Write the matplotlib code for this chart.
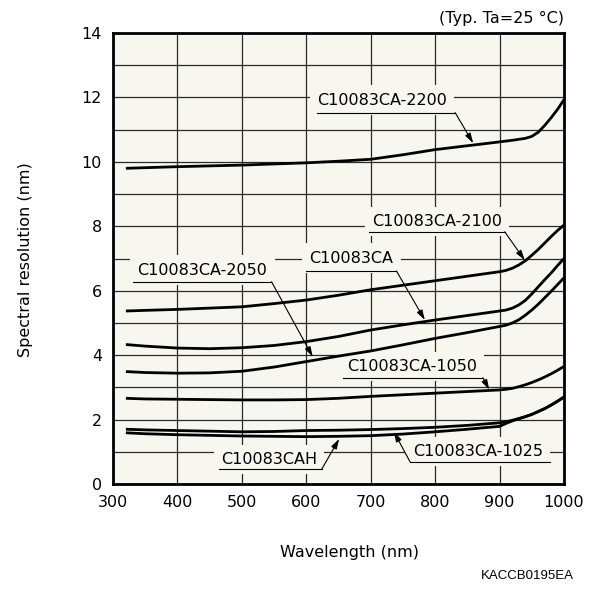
import matplotlib
matplotlib.use("Agg")
import matplotlib.pyplot as plt

# ---- data ----
wl_2200 = [320, 400, 500, 600, 650, 700, 750, 800, 850, 900, 920, 940, 950, 960, 970, 980, 990, 1000]
res_2200 = [9.80, 9.85, 9.90, 9.97, 10.02, 10.08, 10.22, 10.38, 10.50, 10.62, 10.67, 10.73, 10.79,
            10.92, 11.13, 11.37, 11.63, 11.93]

wl_std = [320, 350, 400, 450, 500, 550, 600, 650, 700, 750, 800, 850, 900,
          910, 920, 930, 940, 950, 960, 970, 980, 990, 1000]
res_2100 = [5.37, 5.39, 5.42, 5.46, 5.50, 5.60, 5.71, 5.86, 6.03, 6.17, 6.31, 6.45, 6.59,
            6.63, 6.70, 6.80, 6.93, 7.10, 7.28, 7.48, 7.68, 7.87, 8.04]
res_ca = [4.33, 4.28, 4.22, 4.20, 4.23, 4.30, 4.42, 4.58, 4.78, 4.94, 5.09, 5.23, 5.37,
          5.40, 5.46, 5.56, 5.70, 5.90, 6.12, 6.34, 6.55, 6.78, 7.00]
res_2050 = [3.49, 3.46, 3.44, 3.45, 3.50, 3.63, 3.80, 3.97, 4.13, 4.32, 4.52, 4.70, 4.89,
            4.93, 5.00, 5.10, 5.24, 5.40, 5.58, 5.78, 5.98, 6.19, 6.40]
res_1050 = [2.66, 2.64, 2.63, 2.62, 2.61, 2.61, 2.62, 2.66, 2.72, 2.77, 2.82, 2.87, 2.92,
            2.94, 2.97, 3.02, 3.08, 3.15, 3.23, 3.32, 3.42, 3.53, 3.65]
res_1025 = [1.70, 1.68, 1.66, 1.64, 1.62, 1.63, 1.66, 1.67, 1.69, 1.72, 1.76, 1.82, 1.90,
            1.93, 1.98, 2.03, 2.09, 2.16, 2.25, 2.34, 2.45, 2.57, 2.70]
res_cah = [1.59, 1.56, 1.53, 1.51, 1.49, 1.48, 1.47, 1.48, 1.50, 1.55, 1.62, 1.70, 1.79,
           1.88, 1.96, 2.03, 2.09, 2.16, 2.25, 2.34, 2.45, 2.57, 2.70]

x_ticks = [300, 400, 500, 600, 700, 800, 900, 1000]
y_ticks = [0, 2, 4, 6, 8, 10, 12, 14]

BG = "#f7f6ef"
plt.rcParams["font.family"] = ["DejaVu Sans"]

fig = plt.figure(figsize=(5.92, 5.93), dpi=100)
ax = fig.add_axes([113 / 592, 1 - 484 / 593, (564 - 113) / 592, (484 - 33) / 593])
ax.set_facecolor(BG)

ax.set_xlim(300, 1000)
ax.set_ylim(0, 14)
ax.set_xticks(x_ticks)
ax.set_yticks(y_ticks)
ax.set_yticks(range(0, 15), minor=True)
ax.grid(True, which="both", color="#2a2a2a", lw=0.9, zorder=0)
ax.set_axisbelow(True)
ax.tick_params(which="both", length=0, labelsize=11.5, pad=8)
for s in ax.spines.values():
    s.set_linewidth(2)
    s.set_color("black")
    s.set_zorder(6)

curves = [
    (wl_2200, res_2200), (wl_std, res_2100), (wl_std, res_ca), (wl_std, res_2050),
    (wl_std, res_1050), (wl_std, res_1025), (wl_std, res_cah),
]
for xs, ys in curves:
    ax.plot(xs, ys, color="black", lw=2.0, zorder=4, solid_capstyle="butt",
            solid_joinstyle="round")


def label(text, tx, ty, ux0, ux1, uy, sx, sy, tipx, tipy):
    ax.text(tx, ty, text, ha="center", va="center", fontsize=11.5, zorder=3,
            bbox=dict(boxstyle="square,pad=0.45", fc=BG, ec="none"))
    ax.plot([ux0, ux1], [uy, uy], color="black", lw=0.8, zorder=3.5)
    ax.annotate("", xy=(tipx, tipy), xytext=(sx, sy),
                arrowprops=dict(arrowstyle="-|>,head_length=0.6,head_width=0.18",
                                lw=0.8, color="black", shrinkA=0, shrinkB=0),
                zorder=3.5)


label("C10083CA-2200", 718, 11.92, 616, 831, 11.53, 831, 11.53, 859, 10.58)
label("C10083CA-2100", 803, 8.14, 697, 908, 7.83, 908, 7.83, 939, 6.95)
label("C10083CA", 670, 7.01, 600, 740, 6.61, 740, 6.61, 784, 5.09)
label("C10083CA-2050", 439, 6.64, 331, 546, 6.28, 546, 6.28, 610, 3.95)
label("C10083CA-1050", 764, 3.64, 657, 874, 3.30, 874, 3.30, 884, 2.93)
label("C10083CAH", 542, 0.77, 464, 624, 0.46, 624, 0.46, 651, 1.40)
label("C10083CA-1025", 866, 1.00, 761, 978, 0.69, 761, 0.69, 736, 1.62)

fig.text(564 / 592, 1 - 18 / 593, "(Typ. Ta=25 °C)", ha="right", va="center", fontsize=11.5)
fig.text(26 / 592, 1 - 260 / 593, "Spectral resolution (nm)", rotation=90,
         ha="center", va="center", fontsize=11.5)
fig.text(350 / 592, 1 - 552 / 593, "Wavelength (nm)", ha="center", va="center", fontsize=11.5)
fig.text(574 / 592, 1 - 576 / 593, "KACCB0195EA", ha="right", va="center",
         fontsize=9.5, family=["Liberation Sans"])

fig.savefig("out.png", dpi=100, facecolor="white")
